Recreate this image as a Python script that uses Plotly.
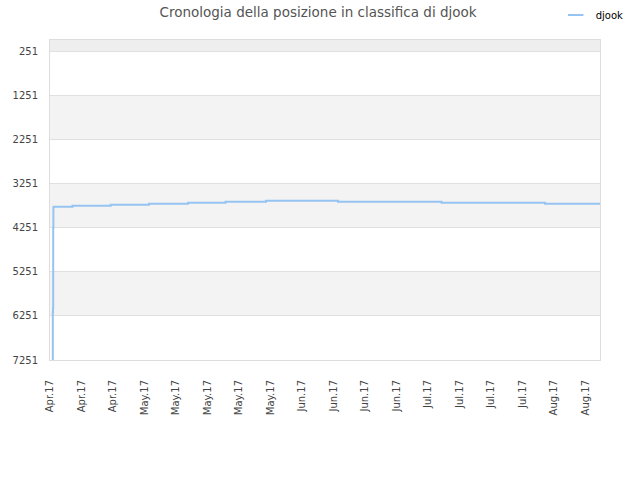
import plotly.graph_objects as go

# posizione in classifica (rank) nel tempo
dates = ["2017-04-12 14:00", "2017-04-12 15:00", "2017-04-12 16:00",
         "2017-04-12 17:00", "2017-04-12 18:00", "2017-04-12 19:00",
         "2017-04-17", "2017-04-25 12:00", "2017-05-04", "2017-05-12 16:00",
         "2017-05-21", "2017-05-30", "2017-06-15", "2017-07-08",
         "2017-07-31", "2017-08-12 05:00"]
ranks = [7251, 6163, 6072, 4260, 3807, 3778,
         3756, 3733, 3710, 3687,
         3665, 3642, 3665, 3687,
         3710, 3710]

ytick_vals = [251, 1251, 2251, 3251, 4251, 5251, 6251, 7251]
ytick_text = [str(v) for v in ytick_vals]

line_color = "#95c4f2"

fig = go.Figure()
fig.add_trace(go.Scatter(x=dates, y=ranks, mode="lines", name="djook",
                         showlegend=False,
                         line=dict(color=line_color, width=2, shape="hv")))
# voce di legenda con trattino corto
fig.add_trace(go.Scatter(x=[None], y=[None], mode="markers", name="djook",
                         marker=dict(symbol="line-ew-open", size=11, color=line_color,
                                     line=dict(color=line_color, width=2))))

# bande alternate di sfondo
fig.add_shape(type="rect", xref="paper", yref="y", x0=0, x1=1, y0=0, y1=ytick_vals[0],
              fillcolor="#eeeeee", line_width=0, layer="below")
for i in range(len(ytick_vals) - 1):
    if i % 2 == 1:
        fig.add_shape(type="rect", xref="paper", yref="y", x0=0, x1=1,
                      y0=ytick_vals[i], y1=ytick_vals[i + 1],
                      fillcolor="#f3f3f3", line_width=0, layer="below")

fig.update_layout(
    width=640, height=480,
    margin=dict(l=50, r=40, t=40, b=120, autoexpand=False),
    paper_bgcolor="white", plot_bgcolor="white",
    font=dict(family="DejaVu Sans", size=10, color="#444"),
    title=dict(text="Cronologia della posizione in classifica di djook",
               x=0.497, xanchor="center", y=0.975, yanchor="middle",
               font=dict(size=13.5, color="#555")),
    legend=dict(orientation="h", x=0.9195, xanchor="left", y=1.078, yanchor="middle",
                font=dict(size=10, color="#000"), bgcolor="rgba(0,0,0,0)"),
    showlegend=True,
)
fig.update_xaxes(type="date", range=["2017-04-12 00:00", "2017-08-12 05:00"],
                 tick0="2017-04-12", dtick=7 * 86400000, tickformat="%b.%y",
                 tickangle=-90, showgrid=False, showline=True, linecolor="#dddddd",
                 mirror=True, ticks="", ticklabelstandoff=15, zeroline=False,
                 automargin=False)
fig.update_yaxes(range=[7251, 0], tickvals=ytick_vals, ticktext=ytick_text,
                 showgrid=True, gridcolor="#e0e0e0", showline=True, linecolor="#dddddd",
                 mirror=True, ticks="", ticklabelstandoff=9, zeroline=False,
                 automargin=False)

fig.write_html("out.html", config={"displayModeBar": False},
               post_script="document.body.style.margin='0';")
